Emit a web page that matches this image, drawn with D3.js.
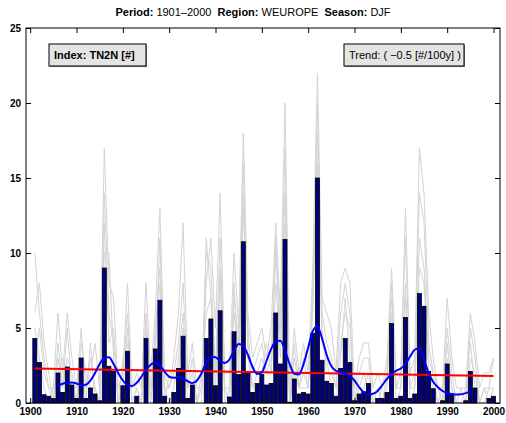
<!DOCTYPE html>
<html><head><meta charset="utf-8">
<script src="https://cdn.jsdelivr.net/npm/d3@7"></script>
<style>body{margin:0;background:#fff;} svg{display:block;font-family:"Liberation Sans",Arial,sans-serif;} text{white-space:pre;}</style>
</head><body>
<svg id="c" width="506" height="423"></svg>
<script>
const years = d3.range(1901, 2001);
const barValues = [4.3,2.7,0.55,0.45,0.3,2.0,0.7,2.4,1.2,0.3,
3.0,0.3,1.0,0.6,0.15,9.0,2.45,2.1,0,1.15,
3.45,0,0.45,0,4.3,0,3.6,6.85,0.45,0,
0.7,2.3,4.45,0.3,1.2,0,0,4.3,5.6,1.15,
6.15,0,0.4,4.75,1.9,10.75,2.1,0.7,1.3,1.9,
1.2,1.3,6.0,2.6,10.9,0.05,1.6,0.6,0.7,0.6,
4.65,15.0,2.85,1.45,1.3,0.45,2.3,4.3,2.7,0.15,
0.6,0.75,1.3,0,0.3,0.3,0.7,5.3,0.3,0.45,
5.7,0.3,0.6,7.3,6.45,2.1,0.95,0,0.15,2.6,
0.6,0,0,0.15,2.1,1.0,0,0,0.3,0.45];
const gray1 = [10,6,3,1,1,6,2,6,3,1, 5,1,2,4,1,17,8,7,1,2, 8,1,2,1,8,2,6,13,2,1,
3,6,12,2,4,1,1,8,11,5, 14,2,2,10,5,18,6,3,4,5, 3,5,12,6,20,1,5,2,4,2,
9,22,7,6,5,2,8,9,8,1, 3,4,4,1,2,1,3,9,2,2, 13,2,3,17,14,6,3,1,1,7, 3,1,1,1,6,4,1,2,2,3];
const gray2 = [6,8,4,2,0,3,1,3,2,0, 4,2,1,1,0,12,4,5,0,1, 5,0,1,0,5,0,5,9,1,0,
1,3,6,1,2,0,0,11,7,2, 9,0,1,6,3,14,3,1,2,3, 2,2,10,4,14,0,2,1,1,1,
7,18,5,2,2,1,4,6,5,0, 1,1,2,0,1,0,1,7,1,1, 8,0,1,11,9,3,2,0,0,4, 1,0,0,0,3,2,0,0,1,1];
const gray3 = [5,3,1,0,1,2,3,2,1,1, 3,0,4,0,0,10,10,3,0,3, 4,0,0,0,6,1,4,8,0,2,
2,2,5,0,1,0,2,6,7,1, 8,1,0,8,2,13,5,1,1,2, 4,2,8,3,12,0,3,1,2,1,
6,16,4,3,1,0,3,7,3,1, 1,2,1,0,0,1,2,6,0,1, 7,1,1,9,8,2,1,0,1,3, 1,0,0,1,4,1,0,1,0,1];
const gray4 = [3,5,2,1,0,4,1,5,1,0, 2,1,3,1,0,14,6,4,1,2, 6,1,1,0,4,0,3,11,1,1,
2,4,8,1,3,0,1,10,9,2, 11,1,1,7,4,16,4,2,3,4, 2,3,11,5,17,0,4,1,3,1,
8,20,6,4,3,1,6,8,6,0, 2,3,3,0,1,0,2,8,1,2, 11,1,2,14,12,4,2,1,0,5, 2,0,1,0,5,3,0,1,1,3];
const smoothYears = d3.range(1906, 1996);
const smoothValues = [1.13,1.28,1.35,1.36,1.3,1.2,1.22,1.5,2.0,2.6,
3.0,3.05,2.6,2.0,1.5,1.2,1.13,1.35,1.75,2.2,
2.55,2.7,2.5,2.1,1.75,1.68,1.73,1.65,1.45,1.33,
1.5,2.0,2.7,3.08,3.05,2.8,2.67,2.9,3.5,3.93,
3.8,3.2,2.4,1.93,2.05,2.8,3.6,4.1,4.15,3.5,
2.6,1.95,1.9,2.6,3.7,4.8,5.1,4.3,3.2,2.45,
2.15,2.05,1.95,1.8,1.5,1.05,0.7,0.58,0.62,0.8,
1.2,1.6,1.95,2.15,2.3,2.6,3.1,3.55,3.65,2.9,
2.0,1.4,1.05,0.8,0.67,0.6,0.56,0.58,0.66,0.73];
const trendYears = [1901, 2000];
const trendValues = [2.3, 1.8];
const xTicks = d3.range(1900, 2001, 10);
const yTicks = [0,5,10,15,20,25];

const svg = d3.select("#c");
const L=26, R=500, T=28, B=403;
const x = d3.scaleLinear().domain([1899.1, 2001.4]).range([L, R]);
const y = d3.scaleLinear().domain([0, 25]).range([B, T]);

// gray lines
const grayLine = d3.line().x((d,i)=>x(years[i])).y(d=>y(d));
[gray1, gray2, gray3, gray4].forEach(g => {
  svg.append("path").attr("d", grayLine(g)).attr("fill","none")
    .attr("stroke","#d4d4d4").attr("stroke-width",1);
});

// bars
const bw = (x(1901)-x(1900))*0.86;
svg.append("g").selectAll("rect").data(barValues).join("rect")
  .attr("x",(d,i)=>x(years[i])-bw/2).attr("width",bw)
  .attr("y",d=>y(d)).attr("height",d=>B-y(d))
  .attr("fill","#000080").attr("stroke","#000").attr("stroke-width",0.8);

// trend
svg.append("path").attr("d", d3.line().x((d,i)=>x(trendYears[i])).y(d=>y(d))(trendValues))
  .attr("stroke","#ff0000").attr("stroke-width",2).attr("fill","none");

// smooth
svg.append("path").attr("d", d3.line().curve(d3.curveMonotoneX).x((d,i)=>x(smoothYears[i])).y(d=>y(d))(smoothValues))
  .attr("stroke","#0000ff").attr("stroke-width",2).attr("fill","none");

// frame
svg.append("rect").attr("x",L).attr("y",T).attr("width",R-L).attr("height",B-T)
  .attr("fill","none").attr("stroke","#000").attr("stroke-width",1);

// axes with inward ticks
const fmt = d3.format("d");
const gb = svg.append("g").attr("transform",`translate(0,${B})`)
  .call(d3.axisBottom(x).tickValues(xTicks).tickFormat(fmt).tickSizeInner(-5).tickSizeOuter(0).tickPadding(6));
const gt = svg.append("g").attr("transform",`translate(0,${T})`)
  .call(d3.axisTop(x).tickValues(xTicks).tickFormat("").tickSizeInner(-5).tickSizeOuter(0));
const gl = svg.append("g").attr("transform",`translate(${L},0)`)
  .call(d3.axisLeft(y).tickValues(yTicks).tickFormat(fmt).tickSizeInner(-5).tickSizeOuter(0).tickPadding(5));
const gr = svg.append("g").attr("transform",`translate(${R},0)`)
  .call(d3.axisRight(y).tickValues(yTicks).tickFormat("").tickSizeInner(-5).tickSizeOuter(0));
[gb,gt,gl,gr].forEach(g=>{ g.select(".domain").remove(); g.selectAll("line").attr("stroke","#000");
  g.selectAll("text").attr("font-size",10).attr("font-weight","bold").attr("fill","#000")
   .attr("font-family","Liberation Sans, Arial, sans-serif"); });
gb.selectAll("text").attr("dy","0.6em");

// title
const title = svg.append("text").attr("x",253).attr("y",16).attr("text-anchor","middle")
  .attr("font-size",11).attr("fill","#000");
title.append("tspan").attr("font-weight","bold").text("Period:");
title.append("tspan").text(" 1901\u20132000  ");
title.append("tspan").attr("font-weight","bold").text("Region:");
title.append("tspan").text(" WEUROPE  ");
title.append("tspan").attr("font-weight","bold").text("Season:");
title.append("tspan").text(" DJF");

// legend boxes
function box(x0,y0,w,h,txt,bold){
  svg.append("rect").attr("x",x0+1).attr("y",y0+1).attr("width",w).attr("height",h).attr("fill","#888");
  svg.append("rect").attr("x",x0).attr("y",y0).attr("width",w).attr("height",h)
    .attr("fill","#e4e4e4").attr("stroke","#000").attr("stroke-width",1);
  svg.append("text").attr("x",x0+5).attr("y",y0+h/2+4).attr("font-size",11)
    .attr("font-weight",bold?"bold":"normal").attr("fill","#000").text(txt);
}
box(49,44,97,22,"Index: TN2N [#]",true);
box(344,44,120,22,"Trend: ( \u22120.5 [#/100y] )",false);
</script>
</body></html>
